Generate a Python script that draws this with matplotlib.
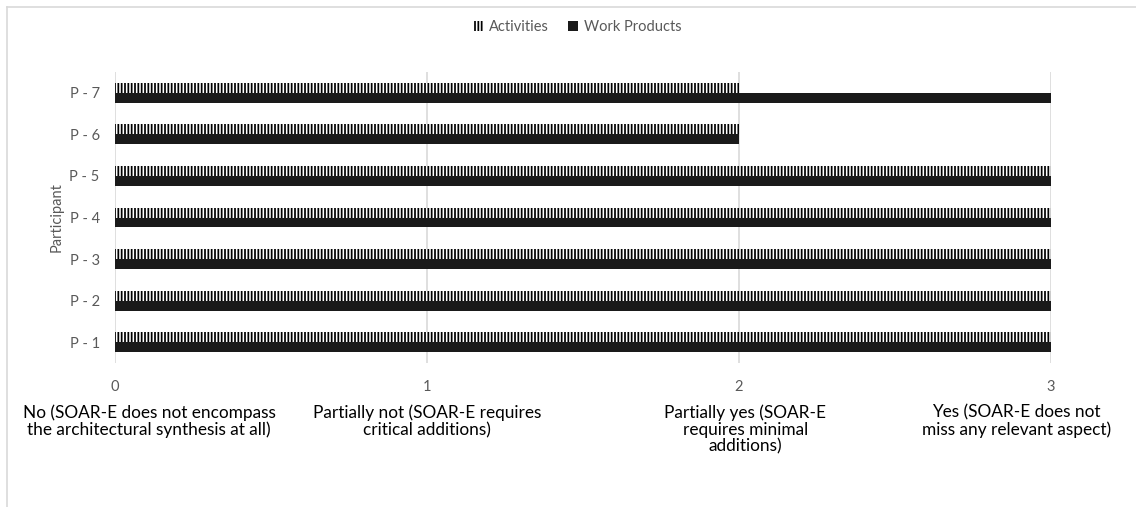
import matplotlib.pyplot as plt
from matplotlib.lines import Line2D
from matplotlib.patches import Patch

plt.rcParams['font.family'] = ['Lato', 'DejaVu Sans']
plt.rcParams['hatch.linewidth'] = 1.25

################################ data
participants = ["P - 1", "P - 2", "P - 3", "P - 4", "P - 5", "P - 6", "P - 7"]
activities = [3, 3, 3, 3, 3, 2, 2]
work_products = [3, 3, 3, 3, 3, 2, 3]

scale_ticks = [0, 1, 2, 3]
scale_labels = [
    "No (SOAR-E does not encompass\nthe architectural synthesis at all)",
    "Partially not (SOAR-E requires\ncritical additions)",
    "Partially yes (SOAR-E\nrequires minimal\nadditions)",
    "Yes (SOAR-E does not\nmiss any relevant aspect)",
]

################################ layout
label_shift = [0.11, 0.0, 0.02, -0.11]  # excel nudges the outer labels inward
bar_h = 0.24
grey = "#595959"
grid = "#d9d9d9"

fig = plt.figure(figsize=(11.36, 5.07), dpi=100)
ax = fig.add_axes([0.1012, 0.284, 0.824, 0.574])

y = list(range(len(participants)))
ax.barh([v + bar_h / 2 for v in y], activities, height=bar_h, color="white",
        edgecolor="black", hatch="|||||", linewidth=0, zorder=3)
ax.barh([v - bar_h / 2 for v in y], work_products, height=bar_h, color="#1a1a1a",
        linewidth=0, zorder=3)

ax.set_xlim(0, 3)
ax.set_ylim(-0.5, len(participants) - 0.5)
ax.set_xticks(scale_ticks)
ax.set_xticklabels([str(t) for t in scale_ticks], color=grey, fontsize=10.5)
ax.tick_params(axis="x", length=0, pad=12)
ax.set_yticks(y)
ax.set_yticklabels(participants, color=grey, fontsize=10.5)
ax.tick_params(axis="y", length=0, pad=11)
ax.grid(axis="x", color=grid, linewidth=1.2, zorder=0)
for s in ax.spines.values():
    s.set_visible(False)

ax.set_ylabel("Participant", color=grey, fontsize=10.5, labelpad=4)

for t, lab, sh in zip(scale_ticks, scale_labels, label_shift):
    ax.text(t + sh, -0.143, lab, transform=ax.get_xaxis_transform(), ha="center",
            va="top", fontsize=12.4, color="black", linespacing=1.05)

handles = [Patch(facecolor="white", edgecolor="black", hatch="|||||", linewidth=0, label="Activities"),
           Patch(facecolor="#1a1a1a", linewidth=0, label="Work Products")]
fig.legend(handles=handles, loc="center", bbox_to_anchor=(0.508, 0.947), ncol=2, frameon=False,
           fontsize=10.5, handlelength=0.7, handleheight=0.7, handletextpad=0.4,
           columnspacing=1.3, labelcolor=grey)

# chart area border (cropped at right and bottom)
fig.add_artist(Line2D([7 / 1136, 1], [1 - 7 / 507, 1 - 7 / 507], color=grid, linewidth=1.2))
fig.add_artist(Line2D([7 / 1136, 7 / 1136], [0, 1 - 7 / 507], color=grid, linewidth=1.2))

fig.savefig("out.png", dpi=100)
